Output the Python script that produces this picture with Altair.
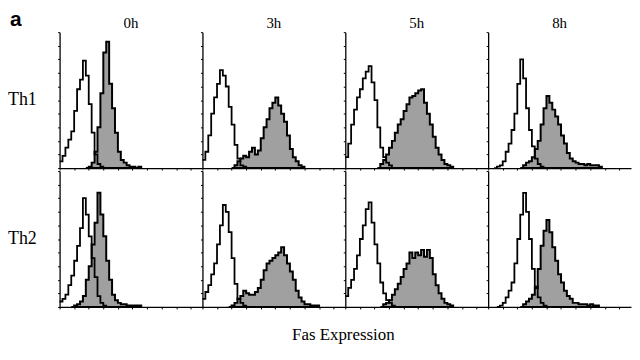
import altair as alt
import pandas as pd

# ---- categories ----
TIMES = ["0h", "3h", "5h", "8h"]
SUBSETS = ["Th1", "Th2"]
N_CHANNELS = 49          # fluorescence channel bins shown per panel

# ---- histogram counts (percent of peak scale) ----
# each series: first channel, then counts per channel
th1_0h_ctrl_start, th1_0h_ctrl = 0, [5, 9, 15, 21, 27, 42, 58, 65, 79, 68, 47, 26, 10, 3, 1]
th1_0h_fas_start, th1_0h_fas = 10, [1, 4, 12, 30, 55, 85, 93, 62, 44, 26, 12, 6, 4, 2, 1, 1, 0, 1]
th1_3h_ctrl_start, th1_3h_ctrl = 0, [6, 12, 24, 40, 52, 62, 72, 68, 60, 45, 32, 17, 7, 2, 1]
th1_3h_fas_start, th1_3h_fas = 11, [2, 5, 7, 9, 8, 12, 15, 10, 13, 22, 30, 36, 44, 48, 52, 46, 40, 34, 24, 14, 8, 5, 2, 1]
th1_5h_ctrl_start, th1_5h_ctrl = 0, [8, 18, 32, 43, 52, 58, 66, 71, 75, 63, 50, 30, 15, 8, 4, 2]
th1_5h_fas_start, th1_5h_fas = 12, [3, 6, 10, 15, 20, 26, 32, 36, 42, 47, 52, 53, 55, 57, 58, 48, 40, 32, 23, 15, 10, 6, 3, 2, 1]
th1_8h_ctrl_start, th1_8h_ctrl = 3, [1, 2, 5, 12, 18, 28, 40, 62, 80, 66, 44, 28, 16, 7, 3, 1]
th1_8h_fas_start, th1_8h_fas = 12, [2, 4, 5, 8, 14, 20, 32, 44, 53, 48, 43, 38, 32, 24, 18, 11, 7, 5, 4, 3, 3, 2, 3, 2, 2, 2, 1]

th2_0h_ctrl_start, th2_0h_ctrl = 0, [4, 6, 9, 16, 23, 34, 45, 58, 80, 68, 52, 36, 22, 8, 3, 1]
th2_0h_fas_start, th2_0h_fas = 5, [1, 2, 4, 8, 20, 30, 46, 62, 84, 68, 52, 34, 20, 9, 5, 3, 2, 2, 1, 1, 1, 1, 1]
th2_3h_ctrl_start, th2_3h_ctrl = 0, [6, 11, 16, 24, 32, 46, 60, 75, 70, 55, 36, 17, 6, 3, 1]
th2_3h_fas_start, th2_3h_fas = 10, [1, 3, 6, 8, 12, 10, 9, 9, 11, 14, 20, 27, 32, 34, 36, 38, 40, 44, 38, 32, 26, 20, 12, 7, 4, 2, 2, 1, 1, 1]
th2_5h_ctrl_start, th2_5h_ctrl = 0, [8, 14, 20, 28, 38, 50, 60, 72, 77, 62, 46, 32, 18, 10, 5, 3, 1]
th2_5h_fas_start, th2_5h_fas = 13, [2, 3, 5, 9, 13, 17, 22, 28, 32, 40, 36, 40, 38, 42, 37, 42, 36, 24, 16, 10, 6, 3, 2, 1]
th2_8h_ctrl_start, th2_8h_ctrl = 4, [1, 3, 7, 12, 18, 32, 50, 68, 84, 70, 50, 28, 15, 7, 3, 1]
th2_8h_fas_start, th2_8h_fas = 12, [2, 4, 6, 9, 14, 28, 45, 56, 64, 55, 44, 34, 24, 18, 12, 8, 6, 3, 3, 2, 2, 2, 1, 2, 1, 1]

series = [
    ("Th1", "0h", "control", th1_0h_ctrl_start, th1_0h_ctrl),
    ("Th1", "0h", "fas", th1_0h_fas_start, th1_0h_fas),
    ("Th1", "3h", "control", th1_3h_ctrl_start, th1_3h_ctrl),
    ("Th1", "3h", "fas", th1_3h_fas_start, th1_3h_fas),
    ("Th1", "5h", "control", th1_5h_ctrl_start, th1_5h_ctrl),
    ("Th1", "5h", "fas", th1_5h_fas_start, th1_5h_fas),
    ("Th1", "8h", "control", th1_8h_ctrl_start, th1_8h_ctrl),
    ("Th1", "8h", "fas", th1_8h_fas_start, th1_8h_fas),
    ("Th2", "0h", "control", th2_0h_ctrl_start, th2_0h_ctrl),
    ("Th2", "0h", "fas", th2_0h_fas_start, th2_0h_fas),
    ("Th2", "3h", "control", th2_3h_ctrl_start, th2_3h_ctrl),
    ("Th2", "3h", "fas", th2_3h_fas_start, th2_3h_fas),
    ("Th2", "5h", "control", th2_5h_ctrl_start, th2_5h_ctrl),
    ("Th2", "5h", "fas", th2_5h_fas_start, th2_5h_fas),
    ("Th2", "8h", "control", th2_8h_ctrl_start, th2_8h_ctrl),
    ("Th2", "8h", "fas", th2_8h_fas_start, th2_8h_fas),
]

rows = []
for subset, time, kind, start, counts in series:
    if start > 0:
        rows.append(dict(subset=subset, time=time, kind=kind, channel=start - 1, count=0))
    for i, c in enumerate(counts):
        rows.append(dict(subset=subset, time=time, kind=kind, channel=start + i, count=c))
    rows.append(dict(subset=subset, time=time, kind=kind, channel=start + len(counts), count=0))
df = pd.DataFrame(rows)

x_enc = alt.X("channel:Q", scale=alt.Scale(domain=[0, N_CHANNELS], nice=False),
              axis=alt.Axis(labels=False, title=None, grid=False, tickSize=2,
                            values=list(range(0, N_CHANNELS + 1, 5)), minExtent=0,
                            domainColor="black", tickColor="black", domainWidth=1.3))
y_enc = alt.Y("count:Q", scale=alt.Scale(domain=[0, 100], nice=False),
              axis=alt.Axis(labels=False, title=None, grid=False, tickSize=2,
                            values=list(range(0, 101, 10)), minExtent=0,
                            domainColor="black", tickColor="black", domainWidth=1.3))

fas = alt.Chart().mark_area(interpolate="step-after", fill="#a0a0a0", stroke="black",
                            strokeWidth=2, strokeJoin="miter").encode(
    x=x_enc, y=y_enc).transform_filter(alt.datum.kind == "fas")
ctrl = alt.Chart().mark_line(interpolate="step-after", color="black", strokeWidth=1.8).encode(
    x=x_enc, y=y_enc).transform_filter(alt.datum.kind == "control")

chart = alt.layer(fas, ctrl, data=df).properties(width=144, height=137).facet(
    row=alt.Row("subset:N", sort=SUBSETS, title=None,
                header=alt.Header(labelOrient="left", labelAngle=0, labelAlign="left",
                                  labelBaseline="middle", labelFont="Liberation Serif",
                                  labelFontSize=18, labelPadding=23, labelColor="black")),
    column=alt.Column("time:N", sort=TIMES, title="Fas Expression",
                      header=alt.Header(labelOrient="top", titleOrient="bottom",
                                        labelFont="Liberation Serif", labelFontSize=15,
                                        labelPadding=1, labelColor="black",
                                        titleFont="Liberation Serif", titleFontSize=17,
                                        titleFontWeight="normal", titlePadding=10,
                                        titleColor="black")),
    spacing={"row": 3, "column": 0},
    bounds="flush",
    title=alt.TitleParams("a", anchor="start", fontSize=21, fontWeight="bold",
                          font="Liberation Sans", offset=-14, dx=2, color="black"),
).resolve_axis(x="independent", y="independent").properties(padding=0).configure_view(
    stroke="transparent")

chart.save("out.html", embed_options={"renderer": "svg", "actions": False})
